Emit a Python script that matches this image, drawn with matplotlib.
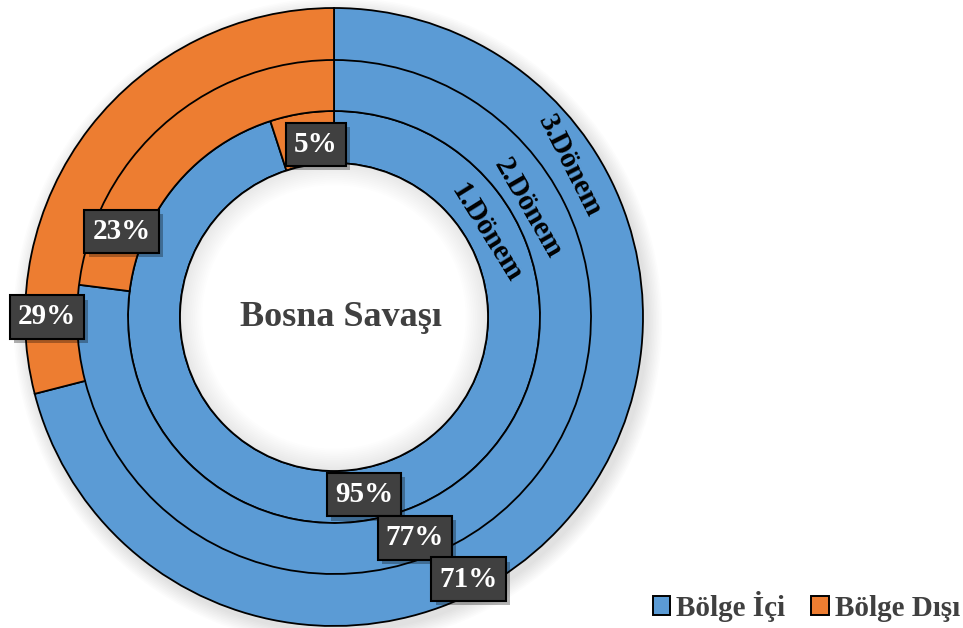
import matplotlib
matplotlib.use("Agg")
import matplotlib.pyplot as plt
import matplotlib.patheffects as pe
from matplotlib.patches import Patch, Wedge

# data
periods = ["1.Dönem", "2.Dönem", "3.Dönem"]
series = ["Bölge İçi", "Bölge Dışı"]
bolge_ici = [95, 77, 71]
bolge_disi = [5, 23, 29]
center_title = "Bosna Savaşı"

colors = ["#5B9BD5", "#ED7D31"]
SERIF = "Liberation Serif"

W, H = 963, 628
fig = plt.figure(figsize=(W / 100, H / 100), dpi=100)
cx, cy, R = 334, 317, 309
ax = fig.add_axes([(cx - R) / W, (H - cy - R) / H, 2 * R / W, 2 * R / H])
ax.set_aspect("equal")
ax.axis("off")

ring_w = 52 / R
radii = [206 / R, 258 / R, 1.0]

# soft outer shadow
for k in range(10):
    circ = plt.Circle((0.012, -0.016), 1.0 + 0.005 * (10 - k), color="black", alpha=0.012,
                      lw=0, zorder=0, clip_on=False)
    ax.add_patch(circ)

for i in range(3):
    ax.pie([bolge_ici[i], bolge_disi[i]], radius=radii[i], startangle=90, counterclock=False,
           colors=colors, wedgeprops=dict(width=ring_w, edgecolor="black", linewidth=1.3),
           normalize=True)

# inner hole: white with a faint inner glow
hole_r = radii[0] - ring_w
ax.add_patch(plt.Circle((0.0, 0.0), hole_r, color="white", lw=0, zorder=3))
for k in range(12):
    w = 0.006 * (k + 1)
    ax.add_patch(Wedge((0.0, 0.0), hole_r, 0, 360, width=w, color="black", alpha=0.007,
                       lw=0, zorder=3.5))
ax.add_patch(plt.Circle((0.0, 0.0), hole_r, fill=False, edgecolor="black", lw=1.3, zorder=4))
ax.set_xlim(-1, 1)
ax.set_ylim(-1, 1)

# percentage label positions (data units)
label_pos = {
    (0, 0): (0.097, -0.575),
    (0, 1): (-0.058, 0.558),
    (1, 0): (0.262, -0.715),
    (1, 1): (-0.687, 0.277),
    (2, 0): (0.436, -0.848),
    (2, 1): (-0.929, 0.0),
}
vals = [bolge_ici, bolge_disi]
for (i, s), (x, y) in label_pos.items():
    txt = f"{vals[s][i]}%"
    t = ax.text(x, y, txt, ha="center", va="center", fontsize=21, fontweight="bold",
                family=SERIF, color="white", zorder=10,
                bbox=dict(boxstyle="square,pad=0.28", fc="#404040", ec="black", lw=1.5))
    t.get_bbox_patch().set_path_effects([
        pe.SimplePatchShadow(offset=(3, -3), shadow_rgbFace="black", alpha=0.3),
        pe.Normal()])

# period labels
period_pos = [(0.494, 0.272, -58), (0.628, 0.352, -60), (0.764, 0.488, -63)]
for name, (x, y, rot) in zip(periods, period_pos):
    ax.text(x, y, name, ha="center", va="center", rotation=rot, rotation_mode="anchor",
            fontsize=21, fontweight="bold", family=SERIF, color="black", zorder=10)

ax.text(0.022, 0.0, center_title, ha="center", va="center", fontsize=26, fontweight="bold",
        family=SERIF, color="#404040", zorder=10)

# legend
handles = [Patch(facecolor=c, edgecolor="black", linewidth=1.4) for c in colors]
leg = fig.legend(handles, series, loc="lower right", bbox_to_anchor=(1.024, -0.032), ncol=2,
                 frameon=False, handlelength=0.6, handleheight=0.6, handletextpad=0.2,
                 columnspacing=0.9,
                 prop=dict(family=SERIF, weight="bold", size=21))
for t in leg.get_texts():
    t.set_color("#404040")

fig.savefig("out.png", dpi=100)
